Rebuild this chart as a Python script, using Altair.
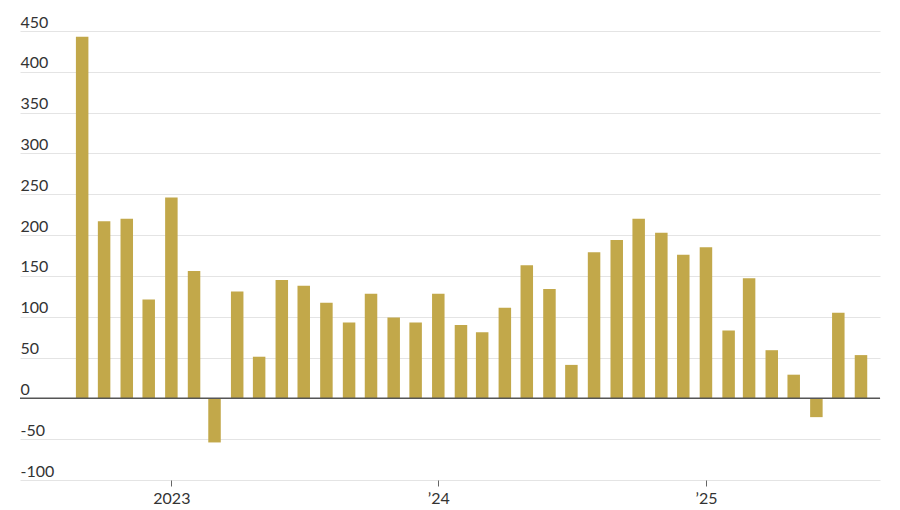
import altair as alt
import pandas as pd

months = pd.date_range("2022-09-01", "2025-08-01", freq="MS").strftime("%Y-%m-%d").tolist()
values = [443, 217, 220, 121, 246, 156, -54, 131, 51, 145, 138, 117, 93, 128, 99, 93,
          128, 90, 81, 111, 163, 134, 41, 179, 194, 220, 203, 176, 185, 83, 147, 59,
          29, -23, 105, 53]
y_ticks = [-100, -50, 0, 50, 100, 150, 200, 250, 300, 350, 400, 450]
x_tick_years = [2023, 2024, 2025]

df = pd.DataFrame({"month": months, "value": values})

FONT = "Lato"
BAR = "#C2A84A"

x_scale = alt.Scale(
    type="utc",
    padding=0,
    domain=[alt.DateTime(year=2022, month=6, date=8, utc=True),
            alt.DateTime(year=2025, month=8, date=27, utc=True)],
)
y_scale = alt.Scale(domain=[-100, 450], nice=False, zero=False, padding=0)

bars = alt.Chart(df).mark_bar(color=BAR, size=12.5).encode(
    x=alt.X(
        "month:T",
        scale=x_scale,
        axis=alt.Axis(
            title=None,
            values=[alt.DateTime(year=y, month=1, date=1, utc=True) for y in x_tick_years],
            labelExpr="utcyear(datum.value) == 2023 ? '2023' : '\u2019' + substring(toString(utcyear(datum.value)), 2)",
            grid=False,
            domain=False,
            ticks=True,
            tickSize=6,
            tickColor="#666666",
            tickWidth=1,
            labelFont=FONT,
            labelFontSize=16,
            labelColor="#333333",
            labelPadding=4,
            labelFlush=False,
        ),
    ),
    y=alt.Y(
        "value:Q",
        scale=y_scale,
        axis=alt.Axis(
            title=None,
            values=y_ticks,
            labelExpr="replace(datum.label, '\u2212', '-')",
            grid=True,
            gridColor="#e4e4e4",
            gridWidth=1,
            domain=False,
            ticks=False,
            tickSize=0,
            labelAlign="left",
            labelBaseline="alphabetic",
            labelPadding=0,
            labelOffset=-4,
            labelFont=FONT,
            labelFontSize=16,
            labelColor="#333333",
            labelFlush=False,
        ),
    ),
)

zero = alt.Chart(pd.DataFrame({"z": [0]})).mark_rule(color="#555555", strokeWidth=1.5).encode(
    y=alt.Y("z:Q", scale=y_scale)
)

chart = alt.layer(bars, zero).properties(
    width=860,
    height=449,
    autosize=alt.AutoSizeParams(type="none"),
    padding={"left": 12, "top": 23, "right": 12, "bottom": 26},
).configure_view(stroke=None)

chart.save("out.html", embed_options={"renderer": "svg", "actions": False})
